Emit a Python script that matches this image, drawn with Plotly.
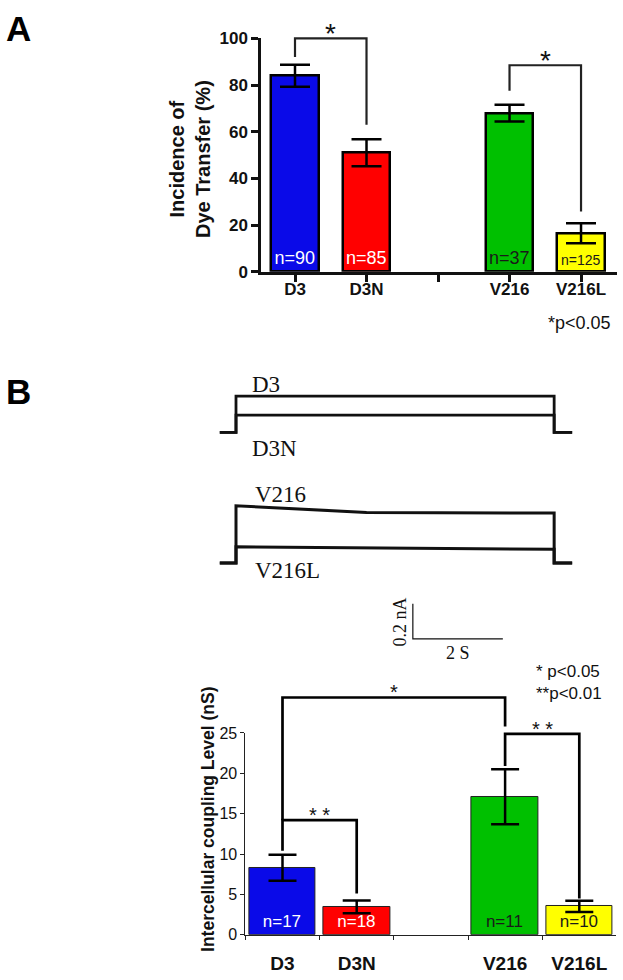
import plotly.graph_objects as go

W, H = 623, 980

# ---- Panel A: dye transfer ----
groups = ["D3", "D3N", " ", "V216", "V216L"]
dye_pct = [84, 51, None, 68, 16.5]
dye_err = [4.7, 5.8, None, 3.6, 4.3]
dye_n = ["n=90", "n=85", "", "n=37", "n=125"]

# ---- Panel B: coupling level ----
coupling_ns = [8.3, 3.45, None, 17.1, 3.5]
coupling_err = [1.6, 0.8, None, 3.4, 0.7]
coupling_n = ["n=17", "n=18", "", "n=11", "n=10"]

bar_colors = ["#0a0ae8", "#ff0000", "#ffffff", "#00c000", "#ffff00"]
n_colors = ["white", "white", "white", "#1a1a1a", "#1a1a1a"]

# significance brackets (group pairs, leg heights)
a_brackets = [(["D3", "D3", "D3N", "D3N"], [92, 100, 100, 63]),
              (["V216", "V216", "V216L", "V216L"], [77.6, 88.5, 88.5, 25.8])]
b_brackets = [(["D3", "D3", "V216", "V216"], [14.2, 29.4, 29.4, 25.8]),
              (["D3", "D3", "D3N", "D3N"], [10.4, 14.2, 14.2, 5.1]),
              (["V216", "V216", "V216L", "V216L"], [20.9, 24.9, 24.9, 4.5])]

# ---- current traces (time in s, current in nA) ----
t_d3 = [-0.36, 0, 0, 7.07, 7.07, 7.47]
i_d3 = [0, 0, 0.205, 0.205, 0, 0]
i_d3n = [0, 0, 0.097, 0.097, 0, 0]
t_v216 = [-0.36, 0, 0, 1.42, 2.9, 7.07, 7.07, 7.47]
i_v216 = [0, 0, 0.324, 0.306, 0.287, 0.283, 0, 0]
i_v216l = [0, 0, 0.092, 0.089, 0.085, 0.078, 0, 0]
scale_t = [3.93, 3.93, 5.93]
scale_i = [-0.23, -0.43, -0.43]


def px_x(p):
    return p / W


def px_y(p):
    return 1 - p / H


SANS = "Liberation Sans, Arial, sans-serif"
SERIF = "Liberation Serif, Times New Roman, serif"

fig = go.Figure()

# panel A bars
fig.add_trace(go.Bar(
    x=groups, y=dye_pct, xaxis="x", yaxis="y", width=0.67,
    marker=dict(color=bar_colors, line=dict(color="black", width=2.5)),
    error_y=dict(type="data", array=dye_err, color="black", thickness=2.5, width=15),
    text=dye_n, textposition="inside", insidetextanchor="start", textangle=0,
    constraintext="none",
    textfont=dict(family=SANS, size=[18, 18, 18, 18, 14], color=n_colors),
    showlegend=False, hoverinfo="skip"))

# panel B bars
fig.add_trace(go.Bar(
    x=groups, y=coupling_ns, xaxis="x3", yaxis="y3", width=0.9,
    marker=dict(color=bar_colors, line=dict(color="#222", width=1)),
    error_y=dict(type="data", array=coupling_err, color="black", thickness=2.5, width=14),
    text=coupling_n, textposition="inside", insidetextanchor="start", textangle=0,
    constraintext="none",
    textfont=dict(family=SANS, size=17, color=n_colors),
    showlegend=False, hoverinfo="skip"))

for bx, by in a_brackets:
    fig.add_trace(go.Scatter(x=bx, y=by, xaxis="x2", yaxis="y2", mode="lines",
                             line=dict(color="#222", width=2.2), showlegend=False,
                             hoverinfo="skip"))
for bx, by in b_brackets:
    fig.add_trace(go.Scatter(x=bx, y=by, xaxis="x4", yaxis="y4", mode="lines",
                             line=dict(color="black", width=2.7), showlegend=False,
                             hoverinfo="skip"))

# current traces
for t, i in [(t_d3, i_d3), (t_d3, i_d3n)]:
    fig.add_trace(go.Scatter(x=t, y=i, xaxis="x5", yaxis="y5", mode="lines",
                             line=dict(color="#111", width=2.8), showlegend=False,
                             hoverinfo="skip"))
for t, i in [(t_v216, i_v216), (t_v216, i_v216l)]:
    fig.add_trace(go.Scatter(x=t, y=i, xaxis="x6", yaxis="y6", mode="lines",
                             line=dict(color="#111", width=3), showlegend=False,
                             hoverinfo="skip"))
fig.add_trace(go.Scatter(x=scale_t, y=scale_i, xaxis="x6", yaxis="y6", mode="lines",
                         line=dict(color="#111", width=1.2), showlegend=False,
                         hoverinfo="skip"))

# ---- axes ----
a_xdom = [px_x(261), px_x(617)]
a_ydom = [px_y(268), px_y(30)]
a_xrange = [-0.4755, 4.503]
b_xdom = [px_x(245.4), px_x(616.4)]
b_ydom = [px_y(944), px_y(738.3)]
b_xrange = [-0.5, 4.5]
tr_xdom = [px_x(213.5), px_x(596)]

cat = dict(type="category", categoryorder="array", categoryarray=groups)
hidden = dict(visible=False, showgrid=False, zeroline=False)

fig.update_layout(
    width=W, height=H, margin=dict(l=0, r=0, t=0, b=0),
    plot_bgcolor="rgba(0,0,0,0)", paper_bgcolor="white", bargap=0,
    xaxis=dict(**cat, domain=a_xdom, range=a_xrange, anchor="y",
               showline=True, linecolor="#111", linewidth=2.5,
               ticks="outside", ticklen=7, tickwidth=2.5, tickcolor="#111",
               ticklabelstandoff=-7,
               tickfont=dict(family=SANS, size=17, color="#111", weight="bold"),
               showgrid=False, zeroline=False),
    yaxis=dict(domain=a_ydom, range=[0, 100], anchor="x",
               showline=True, linecolor="#111", linewidth=2.5,
               ticks="outside", ticklen=7, tickwidth=2.5, tickcolor="#111",
               tickvals=[0, 20, 40, 60, 80, 100],
               tickfont=dict(family=SANS, size=17, color="#111", weight="bold"),
               showgrid=False, zeroline=False),
    xaxis2=dict(**cat, **hidden, domain=a_xdom, range=a_xrange, anchor="y2"),
    yaxis2=dict(**hidden, domain=[px_y(268), 1], range=[0, 268 / 2.38], anchor="x2"),
    xaxis3=dict(**cat, domain=b_xdom, range=b_xrange, anchor="y3",
                showline=True, linecolor="#222", linewidth=1,
                ticks="outside", tickson="boundaries", ticklen=4, tickwidth=1,
                tickcolor="#222", ticklabelstandoff=12,
                tickfont=dict(family=SANS, size=19, color="#111", weight="bold"),
                showgrid=False, zeroline=False),
    yaxis3=dict(domain=b_ydom, range=[0, 25], anchor="x3",
                showline=True, linecolor="#222", linewidth=1,
                ticks="outside", ticklen=4, tickwidth=1, tickcolor="#222",
                tickvals=[0, 5, 10, 15, 20, 25],
                tickfont=dict(family=SANS, size=16, color="#111"),
                showgrid=False, zeroline=False),
    xaxis4=dict(**cat, **hidden, domain=b_xdom, range=b_xrange, anchor="y4"),
    yaxis4=dict(**hidden, domain=[px_y(944), px_y(680)], range=[0, 264 / 8.228],
                anchor="x4"),
    xaxis5=dict(**hidden, domain=tr_xdom, range=[-0.5, 8], anchor="y5"),
    yaxis5=dict(**hidden, domain=[px_y(449.7), px_y(377.7)], range=[-0.1, 0.3],
                anchor="x5"),
    xaxis6=dict(**hidden, domain=tr_xdom, range=[-0.5, 8], anchor="y6"),
    yaxis6=dict(**hidden, domain=[px_y(673), px_y(493)], range=[-0.6, 0.4],
                anchor="x6"),
)

ann = []
# panel letters
ann.append(dict(text="<b>A</b>", x=px_x(4), y=px_y(-2), xref="paper", yref="paper",
                xanchor="left", yanchor="top", showarrow=False,
                font=dict(family=SANS, size=35, color="black")))
ann.append(dict(text="<b>B</b>", x=px_x(4), y=px_y(368), xref="paper", yref="paper",
                xanchor="left", yanchor="top", showarrow=False,
                font=dict(family=SANS, size=35, color="black")))
# axis titles
ann.append(dict(text="<b>Incidence of<br>Dye Transfer (%)</b>", x=px_x(190), y=px_y(153),
                xref="paper", yref="paper", xanchor="center", yanchor="middle",
                textangle=-90, showarrow=False,
                font=dict(family=SANS, size=20, color="#111")))
ann.append(dict(text="<b>Intercellular coupling Level (nS)</b>", x=px_x(208), y=px_y(827),
                xref="paper", yref="paper", xanchor="center", yanchor="middle",
                textangle=-90, showarrow=False,
                font=dict(family=SANS, size=17.5, color="#111")))
# p-value notes
ann.append(dict(text="*p<0.05", x=px_x(613), y=px_y(320), xref="paper", yref="paper",
                xanchor="right", yanchor="middle", showarrow=False,
                font=dict(family=SANS, size=18, color="#111")))
ann.append(dict(text="* p<0.05<br>**p<0.01", x=px_x(604), y=px_y(687), xref="paper",
                yref="paper", xanchor="right", yanchor="middle", align="left",
                showarrow=False, font=dict(family=SANS, size=17, color="#111")))
# significance stars
for sx, sy in [(0.5, 100), (3.5, 88.5)]:
    ann.append(dict(text="*", x=sx, y=sy, xref="x2", yref="y2", xanchor="center",
                    yanchor="bottom", showarrow=False, yshift=-13,
                    font=dict(family=SANS, size=28, color="#111")))
for sx, sy, s in [(1.5, 29.4, "*"), (0.5, 14.2, "* *"), (3.5, 24.9, "* *")]:
    ann.append(dict(text=s, x=sx, y=sy, xref="x4", yref="y4", xanchor="center",
                    yanchor="bottom", showarrow=False, yshift=-8,
                    font=dict(family=SANS, size=20, color="#111")))
# trace labels
for txt, tx, ty, xr, yr in [("D3", 0.31, 0.27, "x5", "y5"), ("D3N", 0.31, -0.09, "x5", "y5"),
                            ("V216", 0.38, 0.39, "x6", "y6"),
                            ("V216L", 0.38, -0.045, "x6", "y6")]:
    ann.append(dict(text=txt, x=tx, y=ty, xref=xr, yref=yr, xanchor="left",
                    yanchor="middle", showarrow=False,
                    font=dict(family=SERIF, size=23, color="#111")))
ann.append(dict(text="0.2 nA", x=3.64, y=-0.333, xref="x6", yref="y6", textangle=-90,
                xanchor="center", yanchor="middle",
                showarrow=False, font=dict(family=SERIF, size=18, color="#111")))
ann.append(dict(text="2 S", x=4.93, y=-0.51, xref="x6", yref="y6", xanchor="center",
                yanchor="middle", showarrow=False,
                font=dict(family=SERIF, size=18, color="#111")))

fig.update_layout(annotations=ann)

fig.write_html("out.html", config={"displayModeBar": False},
               post_script="document.body.style.margin = '0';")
